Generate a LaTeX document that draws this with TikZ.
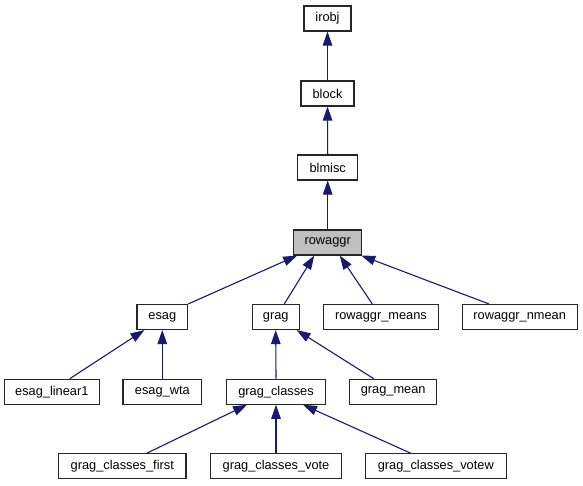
\documentclass[tikz,border=0pt]{standalone}
\usepackage{fontspec}
\setmainfont{Liberation Sans}
\usetikzlibrary{arrows.meta}
\definecolor{edgeblue}{HTML}{191970}
\definecolor{curgray}{HTML}{BFBFBF}

\begin{document}
\begin{tikzpicture}[x=1pt, y=-1pt,
    cls/.style={draw=black!85, line width=1.1pt, minimum height=25pt, inner sep=0pt,
                font=\fontsize{12.8}{14}\selectfont},
    inherit/.style={draw=edgeblue, line width=1.1pt,
                -{Triangle[length=14pt, width=9.5pt]}}]
    \useasboundingbox (0,0) rectangle (583,485);

    \node[cls, minimum width=47pt] (irobj) at (327.5, 18.5) {irobj};
    \node[cls, minimum width=53pt] (block) at (327.5, 93.5) {block};
    \node[cls, minimum width=60pt] (blmisc) at (327.7, 167.5) {blmisc};
    \node[cls, minimum width=68pt, fill=curgray] (rowaggr) at (327.7, 242.5) {rowaggr};

    \node[cls, minimum width=50.7pt] (esag) at (162.3, 317) {esag};
    \node[cls, minimum width=46.7pt] (grag) at (275.7, 317) {grag};
    \node[cls, minimum width=114.6pt] (means) at (381, 317) {rowaggr\_means};
    \node[cls, minimum width=114.7pt] (nmean) at (519.7, 317) {rowaggr\_nmean};

    \node[cls, minimum width=95pt] (linear) at (51.8, 391.7) {esag\_linear1};
    \node[cls, minimum width=78.7pt] (wta) at (162.3, 391.7) {esag\_wta};
    \node[cls, minimum width=98.6pt] (classes) at (276, 391.7) {grag\_classes};
    \node[cls, minimum width=87pt] (gmean) at (393.2, 391.7) {grag\_mean};

    \node[cls, minimum width=127.3pt] (first) at (122.3, 466.3) {grag\_classes\_first};
    \node[cls, minimum width=130.6pt] (vote) at (276, 466.3) {grag\_classes\_vote};
    \node[cls, minimum width=141pt] (votew) at (435.8, 466.3) {grag\_classes\_votew};

    \draw[inherit] (block.north) -- (irobj.south);
    \draw[inherit] (blmisc.north) -- (block.south);
    \draw[inherit] (rowaggr.north) -- (blmisc.south);

    \draw[inherit] (esag.north east) -- ([xshift=4pt]rowaggr.south west);
    \draw[inherit] ([xshift=8.6pt]grag.north) -- ([xshift=-13.5pt]rowaggr.south);
    \draw[inherit] ([xshift=-8.7pt]means.north) -- ([xshift=12pt]rowaggr.south);
    \draw[inherit] ([xshift=-30.7pt]nmean.north) -- ([xshift=-1pt]rowaggr.south east);

    \draw[inherit] ([xshift=18pt]linear.north) -- ([xshift=8pt]esag.south west);
    \draw[inherit] (wta.north) -- (esag.south);
    \draw[inherit] (classes.north) -- (grag.south);
    \draw[inherit] ([xshift=-19.5pt]gmean.north) -- ([xshift=-3pt]grag.south east);

    \draw[inherit] ([xshift=24.4pt]first.north) -- ([xshift=-29pt]classes.south);
    \draw[inherit] (vote.north) -- (classes.south);
    \draw[inherit] ([xshift=-25pt]votew.north) -- ([xshift=27pt]classes.south);

\end{tikzpicture}
\end{document}
